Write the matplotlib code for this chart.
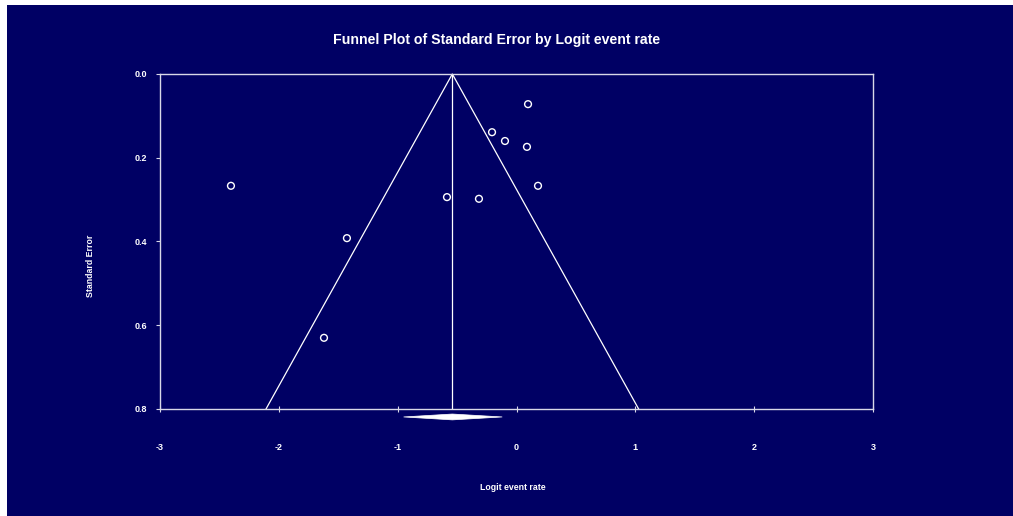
import matplotlib
matplotlib.use("Agg")
import matplotlib.pyplot as plt
from matplotlib.patches import Rectangle, Polygon

# Data
logit_rate = [0.097, -0.206, -0.097, 0.088, 0.181, -2.403, -0.585, -0.316, -1.427, -1.620]
std_error = [0.072, 0.139, 0.160, 0.174, 0.267, 0.267, 0.294, 0.298, 0.392, 0.630]
pooled_est = -0.54
pooled_low = -0.95
pooled_high = -0.12
x_ticks = [-3, -2, -1, 0, 1, 2, 3]
y_ticks = [0.0, 0.2, 0.4, 0.6, 0.8]
y_max = 0.8

navy = "#000064"
fg = "#ffffff"
line_col = "#d8d8e8"
plt.rcParams['font.family'] = ['Liberation Sans', 'DejaVu Sans']

W, H = 1013, 516
fig = plt.figure(figsize=(W / 100, H / 100), dpi=100)
fig.patch.set_facecolor("white")
fig.add_artist(Rectangle((7 / W, 0), 1 - 7 / W, 1 - 5 / H, transform=fig.transFigure,
                         facecolor=navy, edgecolor="none", zorder=-10))

ax = fig.add_axes([160 / W, 1 - 409 / H, (873 - 160) / W, (409 - 74) / H])
ax.set_facecolor(navy)
ax.set_xlim(-3, 3)
ax.set_ylim(y_max, 0)
for s in ax.spines.values():
    s.set_color(line_col)
    s.set_linewidth(1.0)

# Funnel
z = 1.96
ax.plot([pooled_est - z * y_max, pooled_est, pooled_est + z * y_max], [y_max, 0, y_max],
        color=fg, lw=0.9, clip_on=False)
ax.plot([pooled_est, pooled_est], [0, y_max], color=fg, lw=0.9)

# Points
ax.scatter(logit_rate, std_error, s=24, facecolors="none", edgecolors=fg, linewidths=1.0, zorder=3)

# Diamond
dy = 0.007
yd = 0.819
diamond = Polygon([(pooled_low, yd), (pooled_est, yd - dy), (pooled_high, yd), (pooled_est, yd + dy)],
                  closed=True, facecolor=fg, edgecolor=fg, lw=0.5, clip_on=False)
ax.add_patch(diamond)

ax.set_xticks(x_ticks)
ax.set_xticklabels([str(t) for t in x_ticks])
ax.set_yticks(y_ticks)
ax.set_yticklabels([f"{t:.1f}" for t in y_ticks])
ax.tick_params(axis="x", direction="inout", length=5, width=0.8, colors=line_col, pad=22,
               labelcolor=fg, labelsize=6.5)
ax.tick_params(axis="y", direction="out", length=3, width=0.8, colors=line_col, pad=6,
               labelcolor=fg, labelsize=6.5)
for lab in ax.get_xticklabels() + ax.get_yticklabels():
    lab.set_fontweight("bold")

fig.text(497 / W, 1 - 40 / H, "Funnel Plot of Standard Error by Logit event rate", color=fg,
         fontsize=10.2, fontweight="bold", ha="center", va="center")
fig.text(513 / W, 1 - 488 / H, "Logit event rate", color=fg, fontsize=6.3, fontweight="bold",
         ha="center", va="center")
fig.text(90 / W, 1 - 266 / H, "Standard Error", color=fg, fontsize=6.3, fontweight="bold",
         ha="center", va="center", rotation=90)

fig.savefig("out.png", dpi=100, facecolor=fig.get_facecolor())
